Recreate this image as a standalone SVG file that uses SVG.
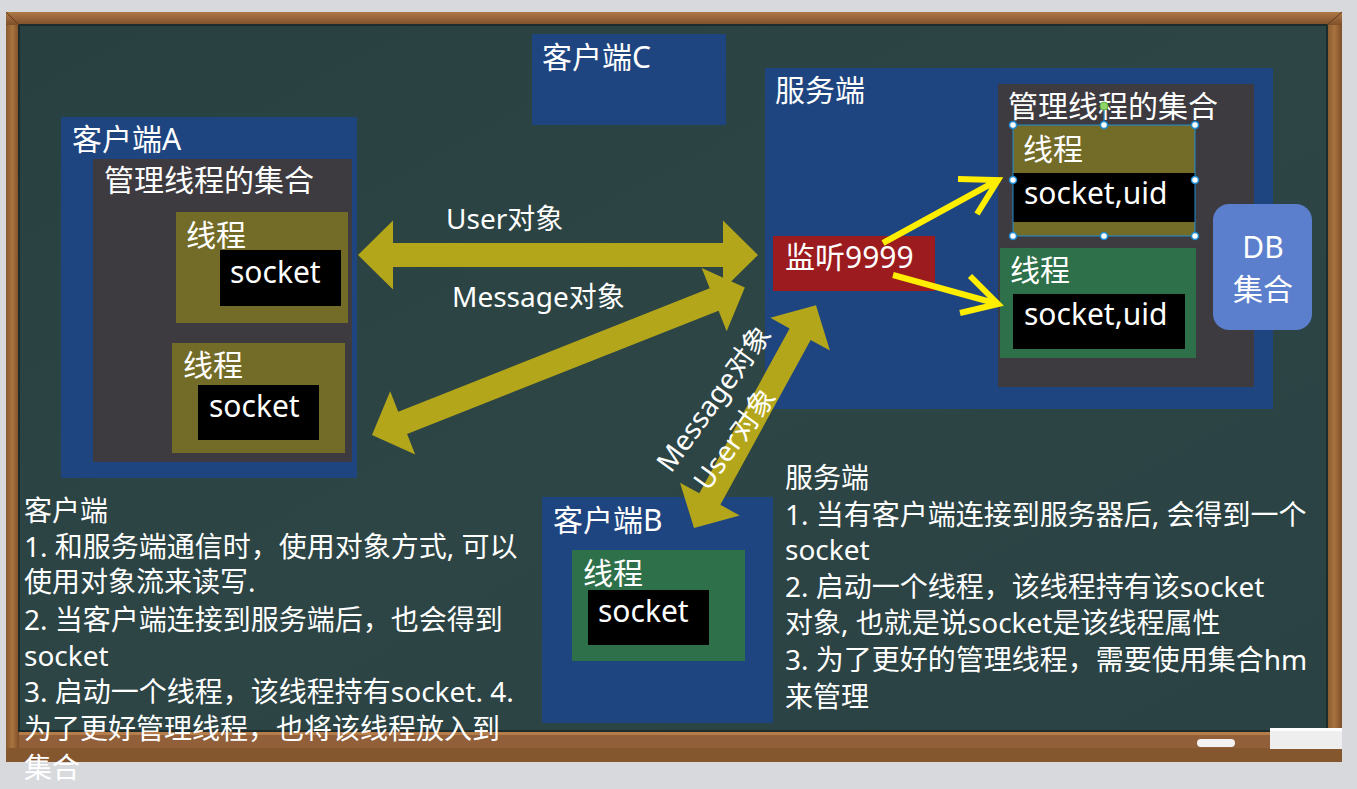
<svg xmlns="http://www.w3.org/2000/svg" width="1357" height="789" viewBox="0 0 1357 789">
<defs>
<linearGradient id="woodV" x1="0" y1="0" x2="1" y2="0">
<stop offset="0" stop-color="#8a5a2e"/><stop offset="0.5" stop-color="#a8733f"/><stop offset="1" stop-color="#7c4e26"/>
</linearGradient>
<linearGradient id="woodH" x1="0" y1="0" x2="0" y2="1">
<stop offset="0" stop-color="#b07a44"/><stop offset="0.5" stop-color="#97633a"/><stop offset="1" stop-color="#7e5028"/>
</linearGradient>
<linearGradient id="board" x1="0" y1="0" x2="1" y2="1">
<stop offset="0" stop-color="#28403f"/><stop offset="0.5" stop-color="#2d4545"/><stop offset="1" stop-color="#2a4243"/>
</linearGradient>
<style>
.t30{font-family:"Noto Sans","Noto Sans CJK SC",sans-serif;font-size:30px;fill:#ffffff}
.t28{font-family:"Noto Sans","Noto Sans CJK SC",sans-serif;font-size:28px;fill:#ffffff}
.blue{fill:#1e4580}
.gray{fill:#3d3b40}
.olive{fill:#736c28}
.green{fill:#2e7049}
.blk{fill:#000000}
.bigarrow{fill:#b3a61b}
.yarrow{fill:none;stroke:#ffee00;stroke-width:6;stroke-linecap:butt;stroke-linejoin:miter}
.handle{fill:#ffffff;stroke:#1e8bd0;stroke-width:1.5}
</style>
</defs>
<rect x="0" y="0" width="1357" height="789" fill="#d7d9dd"/>
<g id="blackboard">
<rect x="6" y="12" width="1336" height="750" fill="url(#woodH)"/>
<rect x="6" y="12" width="13" height="750" fill="url(#woodV)"/>
<rect x="1327" y="12" width="15" height="750" fill="url(#woodV)"/>
<rect x="6" y="12" width="1336" height="13" fill="url(#woodH)"/>
<rect x="19" y="731" width="1308" height="31" fill="#91603a"/>
<rect x="19" y="731" width="1308" height="4" fill="#b47d4a"/>
<rect x="6" y="748" width="1336" height="14" fill="#85572f"/>
<rect x="19" y="25" width="1308" height="706" fill="url(#board)"/>
<rect x="19" y="25" width="1308" height="706" fill="none" stroke="#1c2b2b" stroke-width="2"/>
<line x1="6" y1="12" x2="19" y2="25" stroke="#5e3b1c" stroke-width="1"/>
<line x1="1342" y1="12" x2="1327" y2="25" stroke="#5e3b1c" stroke-width="1"/>
<rect x="1197" y="739" width="38" height="8" rx="4" fill="#f2f2f2"/>
<rect x="1270" y="728" width="72" height="21" fill="#eeeeee"/>
<rect x="1270" y="728" width="72" height="3" fill="#ffffff"/>
</g>
<g id="clientC">
<rect class="blue" x="532" y="34" width="194" height="91"/>
<text class="t30" x="542" y="68">客户端C</text>
</g>
<g id="clientA">
<rect class="blue" x="61" y="117" width="296" height="361"/>
<text class="t30" x="72" y="150">客户端A</text>
<rect class="gray" x="93" y="159" width="259" height="303"/>
<text class="t30" x="104" y="191">管理线程的集合</text>
<g id="clientA-thread1">
<rect class="olive" x="176" y="212" width="172" height="111"/>
<text class="t30" x="186" y="246">线程</text>
<rect class="blk" x="220" y="250" width="121" height="56"/>
<text class="t30" x="230" y="283">socket</text>
</g>
<g id="clientA-thread2">
<rect class="olive" x="172" y="343" width="173" height="110"/>
<text class="t30" x="183" y="376">线程</text>
<rect class="blk" x="198" y="385" width="121" height="55"/>
<text class="t30" x="209" y="417">socket</text>
</g>
</g>
<g id="server">
<rect class="blue" x="765" y="68" width="508" height="341"/>
<text class="t30" x="775" y="101">服务端</text>
<rect class="gray" x="998" y="84" width="256" height="303"/>
<text class="t30" x="1008" y="117">管理线程的集合</text>
<g id="server-thread1">
<rect class="olive" x="1013" y="125" width="182" height="111"/>
<text class="t30" x="1023" y="160">线程</text>
<rect class="blk" x="1013" y="173" width="182" height="49"/>
<text class="t30" x="1024" y="204">socket,uid</text>
<rect x="1013" y="125" width="182" height="111" fill="none" stroke="#1e8bd0" stroke-width="1"/>
<line x1="1104" y1="106" x2="1104" y2="125" stroke="#1e8bd0" stroke-width="1"/>
<circle cx="1104" cy="106" r="4" fill="#8fd66a" stroke="#5fae3f" stroke-width="1"/>
<circle class="handle" cx="1013" cy="125" r="3.5"/>
<circle class="handle" cx="1104" cy="125" r="3.5"/>
<circle class="handle" cx="1195" cy="125" r="3.5"/>
<circle class="handle" cx="1013" cy="180" r="3.5"/>
<circle class="handle" cx="1195" cy="180" r="3.5"/>
<circle class="handle" cx="1013" cy="236" r="3.5"/>
<circle class="handle" cx="1104" cy="236" r="3.5"/>
<circle class="handle" cx="1195" cy="236" r="3.5"/>
</g>
<g id="server-thread2">
<rect class="green" x="1000" y="248" width="196" height="110"/>
<text class="t30" x="1010" y="281">线程</text>
<rect class="blk" x="1013" y="294" width="172" height="55"/>
<text class="t30" x="1024" y="325">socket,uid</text>
</g>
<g id="listen">
<rect x="773" y="236" width="162" height="55" fill="#9b1b1f"/>
<text class="t30" x="785" y="268">监听9999</text>
</g>
</g>
<g id="db">
<rect x="1213" y="204" width="99" height="126" rx="16" fill="#5b7fcc"/>
<text class="t30" x="1263" y="258" text-anchor="middle">DB</text>
<text class="t30" x="1263" y="300" text-anchor="middle">集合</text>
</g>
<g id="clientB">
<rect class="blue" x="542" y="497" width="231" height="226"/>
<text class="t30" x="553" y="531">客户端B</text>
<rect class="green" x="572" y="550" width="173" height="111"/>
<text class="t30" x="583" y="584">线程</text>
<rect class="blk" x="588" y="590" width="121" height="55"/>
<text class="t30" x="598" y="622">socket</text>
</g>
<g id="connectors">
<polygon class="bigarrow" transform="translate(358,255)" points="0,0 35,-34.5 35,-12 365,-12 365,-34.5 400,0 365,34.5 365,12 35,12 35,34.5"/>
<polygon class="bigarrow" transform="translate(372,435) rotate(-21.6)" points="0,0 33,-34 33,-12 368,-12 368,-34 401,0 368,34 368,12 33,12 33,34"/>
<polygon class="bigarrow" transform="translate(694,528) rotate(-61.3)" points="0,0 33,-34 33,-12 221,-12 221,-34 254,0 221,34 221,12 33,12 33,34"/>
<path class="yarrow" d="M883,243 L998,180 M958,179 L998,180 L977,214"/>
<path class="yarrow" d="M893,275 L998,304 M970,276 L998,304 L960,313"/>
<text class="t28" x="446" y="229">User对象</text>
<text class="t28" x="452" y="307">Message对象</text>
<text class="t28" transform="translate(671,474) rotate(-54)">Message对象</text>
<text class="t28" transform="translate(708,492) rotate(-54)">User对象</text>
</g>
<g id="notes-client">
<text class="t28" x="24"><tspan x="24" y="521">客户端</tspan><tspan x="24" y="557">1. 和服务端通信时，使用对象方式, 可以</tspan><tspan x="24" y="592">使用对象流来读写.</tspan><tspan x="24" y="630">2. 当客户端连接到服务端后，也会得到</tspan><tspan x="24" y="666">socket</tspan><tspan x="24" y="702">3. 启动一个线程，该线程持有socket. 4.</tspan><tspan x="24" y="739">为了更好管理线程，也将该线程放入到</tspan><tspan x="24" y="778">集合</tspan></text>
</g>
<g id="notes-server">
<text class="t28" x="785"><tspan x="785" y="488">服务端</tspan><tspan x="785" y="525">1. 当有客户端连接到服务器后, 会得到一个</tspan><tspan x="785" y="560">socket</tspan><tspan x="785" y="597">2. 启动一个线程，该线程持有该socket</tspan><tspan x="785" y="633">对象, 也就是说socket是该线程属性</tspan><tspan x="785" y="670">3. 为了更好的管理线程，需要使用集合hm</tspan><tspan x="785" y="707">来管理</tspan></text>
</g>
</svg>
